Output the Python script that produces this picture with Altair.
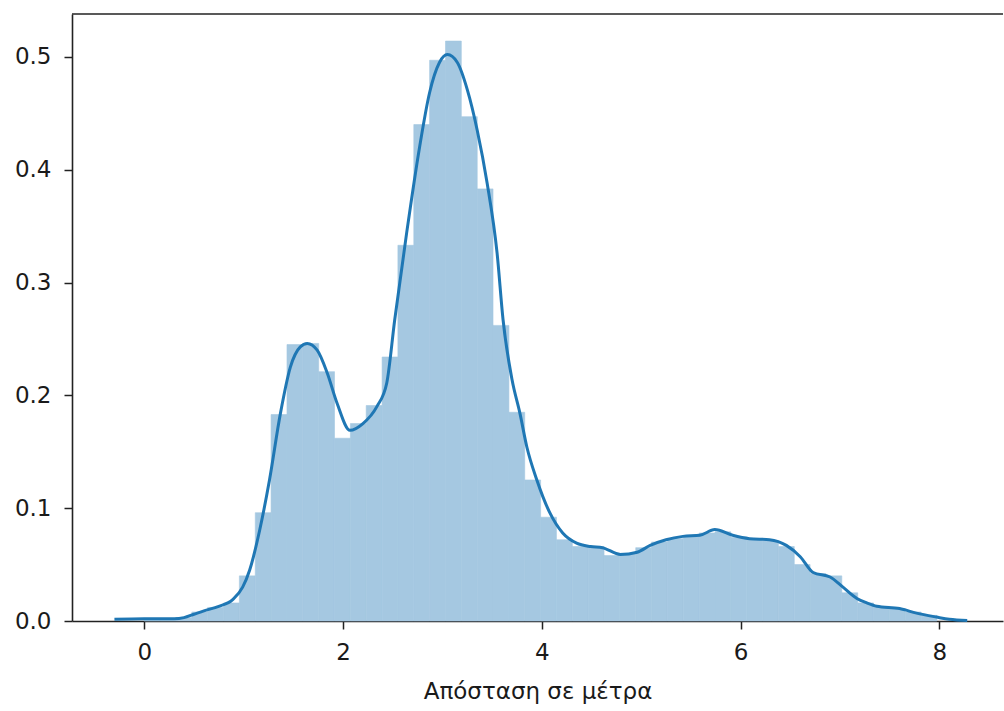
import altair as alt
import pandas as pd

# Histogram bin edges (x, metres) and bar heights (density)
bin_edges = [0.000, 0.160, 0.319, 0.479, 0.638, 0.798, 0.957, 1.117, 1.276, 1.436,
             1.595, 1.755, 1.914, 2.074, 2.233, 2.393, 2.552, 2.712, 2.871, 3.031,
             3.190, 3.350, 3.509, 3.669, 3.828, 3.988, 4.147, 4.307, 4.466, 4.626,
             4.785, 4.945, 5.104, 5.264, 5.423, 5.583, 5.742, 5.902, 6.061, 6.221,
             6.380, 6.540, 6.699, 6.859, 7.018, 7.178, 7.337, 7.497, 7.656, 7.816,
             7.975]
bar_heights = [0.001, 0.002, 0.003, 0.008, 0.012, 0.016, 0.040, 0.096, 0.183, 0.245,
               0.246, 0.221, 0.162, 0.175, 0.191, 0.234, 0.333, 0.440, 0.497, 0.514,
               0.447, 0.383, 0.262, 0.185, 0.125, 0.092, 0.072, 0.066, 0.066, 0.058,
               0.060, 0.065, 0.070, 0.073, 0.075, 0.078, 0.079, 0.074, 0.072, 0.071,
               0.066, 0.050, 0.042, 0.040, 0.025, 0.016, 0.013, 0.011, 0.008, 0.005]

# KDE curve
kde_x = [-0.30, 0.00, 0.30, 0.40, 0.50, 0.60, 0.75, 0.89, 0.99, 1.06, 1.16, 1.26,
         1.37, 1.47, 1.57, 1.64, 1.74, 1.84, 1.94, 2.07, 2.20, 2.34, 2.44, 2.52,
         2.64, 2.77, 2.87, 2.97, 3.05, 3.15, 3.25, 3.35, 3.45, 3.55, 3.61, 3.70,
         3.78, 3.85, 3.95, 4.08, 4.21, 4.35, 4.49, 4.61, 4.79, 4.96, 5.09, 5.25,
         5.42, 5.59, 5.74, 5.92, 6.09, 6.29, 6.46, 6.60, 6.73, 6.90, 7.03, 7.17,
         7.27, 7.37, 7.60, 7.77, 7.97, 8.10, 8.28]
kde_y = [0.0015, 0.002, 0.002, 0.003, 0.006, 0.009, 0.013, 0.019, 0.030, 0.045, 0.080, 0.125,
         0.184, 0.225, 0.243, 0.246, 0.240, 0.220, 0.193, 0.169, 0.175, 0.190, 0.211, 0.267,
         0.344, 0.420, 0.468, 0.495, 0.502, 0.495, 0.471, 0.435, 0.388, 0.326, 0.267, 0.214,
         0.184, 0.154, 0.125, 0.096, 0.078, 0.069, 0.066, 0.065, 0.059, 0.061, 0.067, 0.072,
         0.075, 0.076, 0.081, 0.076, 0.073, 0.072, 0.067, 0.057, 0.043, 0.039, 0.030, 0.020,
         0.016, 0.013, 0.011, 0.007, 0.0035, 0.0015, 0.0005]

x_ticks = [0, 2, 4, 6, 8]
y_ticks = [0.0, 0.1, 0.2, 0.3, 0.4, 0.5]
x_title = "Απόσταση σε μέτρα"

W, H = 931, 607
FONT = "DejaVu Sans"
FS = 23

bars = pd.DataFrame({"start": bin_edges[:-1], "end": bin_edges[1:], "h": bar_heights})
kde = pd.DataFrame({"x": kde_x, "y": kde_y})

xscale = alt.Scale(domain=[-0.727, 8.64], nice=False, zero=False)
yscale = alt.Scale(domain=[0, 0.538], nice=False)

common = dict(grid=False, tickSize=8, tickWidth=1.5, tickColor="#222",
              domainColor="#222", domainWidth=1.6,
              labelFont=FONT, titleFont=FONT, labelFontSize=FS, titleFontSize=FS,
              labelColor="#1a1a1a", titleColor="#1a1a1a", titleFontWeight="normal")
xaxis = alt.Axis(values=x_ticks, title=x_title, format="d", labelPadding=12,
                 titlePadding=16, **common)
yaxis = alt.Axis(values=y_ticks, title=None, format=".1f", labelPadding=13, **common)

bar_layer = alt.Chart(bars).mark_bar(color="#a5c8e1", stroke="#a5c8e1", strokeWidth=0.6).encode(
    x=alt.X("start:Q", scale=xscale, axis=xaxis),
    x2="end:Q",
    y=alt.Y("h:Q", scale=yscale, axis=yaxis),
    y2=alt.datum(0),
)

line_layer = alt.Chart(kde).mark_line(color="#1f77b4", strokeWidth=3, interpolate="monotone").encode(
    x=alt.X("x:Q", scale=xscale),
    y=alt.Y("y:Q", scale=yscale),
)

top_spine = alt.Chart(pd.DataFrame({"a": [0]})).mark_rule(color="#222", strokeWidth=1.6).encode(
    x=alt.value(0), x2=alt.value(W), y=alt.value(0)
)

chart = alt.layer(bar_layer, line_layer, top_spine).properties(
    width=W, height=H,
    background="white",
    autosize=alt.AutoSizeParams(type="none"),
    padding={"left": 72, "top": 14, "right": 1, "bottom": 90},
).configure_view(stroke=None)

chart.save("out.html", embed_options={"renderer": "svg", "actions": False})
